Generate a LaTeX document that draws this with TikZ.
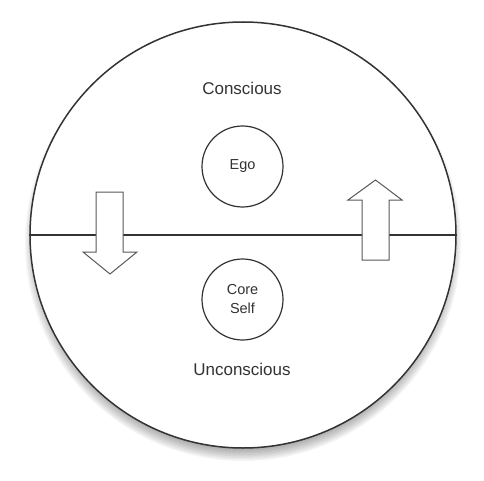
\documentclass[tikz,border=0pt]{standalone}
\usepackage{fontspec}
\setmainfont{Liberation Sans}
\definecolor{inkgray}{HTML}{333333}
\tikzset{
	bubble/.style={draw=inkgray, line width=1.2pt, circle, minimum size=81pt, inner sep=0pt, align=center, text=inkgray, font=\fontsize{14.5}{19}\selectfont},
	zone/.style={text=inkgray, font=\fontsize{17}{20}\selectfont},
	flowarrow/.style={draw=gray!70!black, line width=1pt, fill=white, line join=miter}
}
\begin{document}
\begin{tikzpicture}[x=1pt, y=1pt]
			\useasboundingbox (0,0) rectangle (484,480);
			
			% soft shadow under the big circle
			\foreach \k in {0,...,10}
				\fill[black, opacity=0.045] (243,237) circle (203+\k*1.5);
			
			\node[draw=inkgray, line width=1.5pt, circle, fill=white, minimum size=426pt, inner sep=0pt] (psyche) at (243,245) {};
			\draw[inkgray, line width=2.6pt] (psyche.west) -- (psyche.east);
			
			\node[zone] (conscious) at (242,392) {Conscious};
			\node[zone] (unconscious) at (242,111) {Unconscious};
			
			\node[bubble] (ego) at (242.5,313.5) {Ego};
			\node[bubble] (coreself) at (242.5,180.5) {Core\\Self};
			
			\draw[flowarrow] (96,288) -- (123,288) -- (123,228) -- (137,228) -- (110,206) -- (83,228) -- (96,228) -- cycle;
			\draw[flowarrow] (362,220) -- (389,220) -- (389,280) -- (402,280) -- (375.5,300) -- (348,280) -- (362,280) -- cycle;
		\end{tikzpicture}
\end{document}
